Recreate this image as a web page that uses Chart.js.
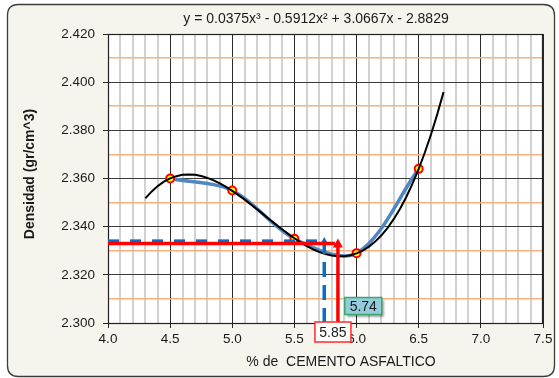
<!DOCTYPE html>
<html>
<head>
<meta charset="utf-8">
<script src="https://cdn.jsdelivr.net/npm/chart.js@4/dist/chart.umd.min.js"></script>
<style>
  html, body { margin: 0; padding: 0; background: #ffffff; }
  #wrap { width: 559px; height: 378px; }
</style>
</head>
<body>
<div id="wrap"><canvas id="chart" width="559" height="378"></canvas></div>
<script>
// Asphalt cement content (%) and measured bulk density (gr/cm^3)
const asphaltPct = [4.5, 5.0, 5.5, 6.0, 6.5];
const density = [2.360, 2.355, 2.335, 2.329, 2.364];

// Cubic trendline of the density series and the range it is drawn over
const trendFrom = 4.3;
const trendTo = 6.7;
const trendEquation = 'y = 0.0375x³ - 0.5912x² + 3.0667x - 2.8829';

// Guide lines for the chosen asphalt content
const redGuidePct = 5.85;
const redGuideDensity = 2.333;
const blueGuidePct = 5.74;
const blueGuideDensity = 2.334;

// Axis tick labels
const xTickLabels = ['4.0', '4.5', '5.0', '5.5', '6.0', '6.5', '7.0', '7.5'];
const yTickLabels = ['2.300', '2.320', '2.340', '2.360', '2.380', '2.400', '2.420'];

const xAxisTitle = '% de  CEMENTO ASFALTICO';
const yAxisTitle = 'Densidad (gr/cm^3)';

const FONT = '"Liberation Sans", Arial, sans-serif';

// ---- least-squares cubic fit (centred on the middle x for stability) ----
function fitCubic(xs, ys) {
  const c = xs.reduce((s, v) => s + v, 0) / xs.length;
  const n = 4;
  const A = Array.from({ length: n }, () => new Array(n + 1).fill(0));
  xs.forEach((xv, k) => {
    const t = xv - c;
    const pw = [1, t, t * t, t * t * t];
    for (let i = 0; i < n; i++) {
      for (let j = 0; j < n; j++) A[i][j] += pw[i] * pw[j];
      A[i][n] += pw[i] * ys[k];
    }
  });
  for (let i = 0; i < n; i++) {
    let p = i;
    for (let r = i + 1; r < n; r++) if (Math.abs(A[r][i]) > Math.abs(A[p][i])) p = r;
    [A[i], A[p]] = [A[p], A[i]];
    for (let r = 0; r < n; r++) {
      if (r === i) continue;
      const f = A[r][i] / A[i][i];
      for (let k = i; k <= n; k++) A[r][k] -= f * A[i][k];
    }
  }
  const b = A.map((row, i) => row[n] / row[i]);
  return xv => { const t = xv - c; return b[0] + b[1] * t + b[2] * t * t + b[3] * t * t * t; };
}

const trend = fitCubic(asphaltPct, density);
const trendPoints = [];
for (let i = 0; i <= 48; i++) {
  const xv = trendFrom + (trendTo - trendFrom) * i / 48;
  trendPoints.push({ x: xv, y: trend(xv) });
}
const densityPoints = asphaltPct.map((v, i) => ({ x: v, y: density[i] }));

const xMin = parseFloat(xTickLabels[0]);
const xMax = parseFloat(xTickLabels[xTickLabels.length - 1]);
const yMin = parseFloat(yTickLabels[0]);
const yMax = parseFloat(yTickLabels[yTickLabels.length - 1]);

// grid positions: every 0.1 on x, every 0.010 on y
const xGrid = [];
for (let i = 0; i <= Math.round((xMax - xMin) * 10); i++) xGrid.push(Math.round((xMin + i * 0.1) * 10) / 10);
const yGrid = [];
for (let i = 0; i <= Math.round((yMax - yMin) * 100); i++) yGrid.push(Math.round((yMin + i * 0.01) * 1000) / 1000);

const isMajorX = v => xTickLabels.includes(v.toFixed(1));
const isMajorY = v => yTickLabels.includes(v.toFixed(3));

function roundRect(ctx, x, y, w, h, r) {
  ctx.beginPath();
  ctx.moveTo(x + r, y);
  ctx.lineTo(x + w - r, y);
  ctx.quadraticCurveTo(x + w, y, x + w, y + r);
  ctx.lineTo(x + w, y + h - r);
  ctx.quadraticCurveTo(x + w, y + h, x + w - r, y + h);
  ctx.lineTo(x + r, y + h);
  ctx.quadraticCurveTo(x, y + h, x, y + h - r);
  ctx.lineTo(x, y + r);
  ctx.quadraticCurveTo(x, y, x + r, y);
  ctx.closePath();
}

function upArrow(ctx, x, yBase, yTip, half) {
  ctx.beginPath();
  ctx.moveTo(x, yTip);
  ctx.lineTo(x + half, yBase);
  ctx.lineTo(x - half, yBase);
  ctx.closePath();
  ctx.fill();
}

function labelBox(ctx, text, cx, cy, w, h, fill, stroke, shadow) {
  ctx.save();
  if (shadow) {
    ctx.shadowColor = 'rgba(0,0,0,0.35)';
    ctx.shadowOffsetX = 2;
    ctx.shadowOffsetY = 2;
    ctx.shadowBlur = 2;
  }
  ctx.fillStyle = fill;
  ctx.fillRect(cx - w / 2, cy - h / 2, w, h);
  ctx.restore();
  ctx.save();
  ctx.strokeStyle = stroke;
  ctx.lineWidth = 1.5;
  ctx.strokeRect(cx - w / 2, cy - h / 2, w, h);
  ctx.fillStyle = '#1a1a1a';
  ctx.font = '14px ' + FONT;
  ctx.textAlign = 'center';
  ctx.textBaseline = 'middle';
  ctx.fillText(text, cx, cy + 1);
  ctx.restore();
}

const decorations = {
  id: 'decorations',
  beforeDraw(chart) {
    const { ctx, chartArea: a } = chart;
    ctx.save();
    ctx.fillStyle = '#ffffff';
    ctx.fillRect(0, 0, chart.width, chart.height);
    roundRect(ctx, 7.5, 4.5, 547, 372, 11);
    ctx.fillStyle = '#f5f5ee';
    ctx.fill();
    ctx.strokeStyle = '#3c3c3c';
    ctx.lineWidth = 1.3;
    ctx.stroke();
    ctx.fillStyle = '#ffffff';
    ctx.fillRect(a.left, a.top, a.right - a.left, a.bottom - a.top);
    ctx.restore();
  },
  beforeDatasetsDraw(chart) {
    const { ctx, chartArea: a } = chart;
    ctx.save();
    ctx.strokeStyle = '#202020';
    ctx.lineWidth = 1.2;
    ctx.strokeRect(Math.round(a.left) + 0.5, Math.round(a.top) + 0.5,
      Math.round(a.right - a.left) - 1, Math.round(a.bottom - a.top));
    ctx.restore();
  },
  afterDatasetsDraw(chart) {
    const { ctx } = chart;
    const xs = chart.scales.x, ys = chart.scales.y;
    const px = v => xs.getPixelForValue(v);
    const py = v => ys.getPixelForValue(v);
    ctx.save();
    ctx.lineCap = 'butt';

    // blue dashed guide
    ctx.strokeStyle = '#0a6fc2';
    ctx.fillStyle = '#0a6fc2';
    ctx.lineWidth = 3.5;
    ctx.setLineDash([11, 11]);
    ctx.beginPath();
    ctx.moveTo(px(xMin), py(blueGuideDensity));
    ctx.lineTo(px(blueGuidePct) - 3, py(blueGuideDensity));
    ctx.stroke();
    ctx.setLineDash([15, 8]);
    ctx.beginPath();
    ctx.moveTo(px(blueGuidePct), py(yMin));
    ctx.lineTo(px(blueGuidePct), py(blueGuideDensity) + 3);
    ctx.stroke();
    ctx.setLineDash([]);
    upArrow(ctx, px(blueGuidePct), py(blueGuideDensity) + 4, py(blueGuideDensity) - 4, 4.5);

    // red solid guide
    ctx.strokeStyle = '#ff0000';
    ctx.fillStyle = '#ff0000';
    ctx.lineWidth = 3.5;
    ctx.beginPath();
    ctx.moveTo(px(xMin), py(redGuideDensity));
    ctx.lineTo(px(redGuidePct) - 3, py(redGuideDensity));
    ctx.stroke();
    ctx.beginPath();
    ctx.moveTo(px(redGuidePct), py(yMin));
    ctx.lineTo(px(redGuidePct), py(redGuideDensity) + 3);
    ctx.stroke();
    upArrow(ctx, px(redGuidePct), py(redGuideDensity) + 4, py(redGuideDensity) - 5, 5);
    ctx.restore();
  },
  afterDraw(chart) {
    const { ctx } = chart;
    const xs = chart.scales.x;
    ctx.save();
    ctx.fillStyle = '#1a1a1a';
    ctx.textAlign = 'center';
    ctx.textBaseline = 'middle';

    ctx.font = '14px ' + FONT;
    ctx.fillText(trendEquation, 316, 19);

    ctx.fillText(xAxisTitle, 341, 362);

    ctx.save();
    ctx.translate(30, 174);
    ctx.rotate(-Math.PI / 2);
    ctx.font = 'bold 14px ' + FONT;
    ctx.fillText(yAxisTitle, 0, 0);
    ctx.restore();

    // value labels for the guide lines
    labelBox(ctx, blueGuidePct.toFixed(2), xs.getPixelForValue(blueGuidePct) + 39, 306, 37, 17,
      '#93cddd', '#3aa96a', true);
    labelBox(ctx, redGuidePct.toFixed(2), xs.getPixelForValue(redGuidePct) - 5, 332, 36, 20,
      '#ffffff', '#ff2a2a', false);
    ctx.restore();
  }
};

new Chart(document.getElementById('chart'), {
  type: 'line',
  data: {
    datasets: [
      {
        label: 'Polinómica',
        data: trendPoints,
        borderColor: '#000000',
        borderWidth: 2,
        pointRadius: 0,
        tension: 0,
        fill: false,
        order: 0
      },
      {
        label: 'Densidad',
        data: densityPoints,
        borderColor: '#4f87c5',
        borderWidth: 3.5,
        tension: 0.33,
        pointRadius: 4,
        pointBorderWidth: 2,
        pointBackgroundColor: '#ffff00',
        pointBorderColor: '#ff0000',
        fill: false,
        order: 1
      }
    ]
  },
  options: {
    responsive: false,
    animation: false,
    devicePixelRatio: 1,
    layout: { padding: { left: 0, top: 34, right: 16, bottom: 0 } },
    plugins: { legend: { display: false }, tooltip: { enabled: false }, title: { display: false } },
    scales: {
      x: {
        type: 'linear',
        min: xMin,
        max: xMax,
        afterFit: s => { s.height = 55; },
        afterBuildTicks: s => { s.ticks = xGrid.map(v => ({ value: v })); },
        border: { display: false },
        grid: {
          color: c => isMajorX(c.tick.value) ? '#2a2a2a' : '#d2d2d2',
          lineWidth: c => isMajorX(c.tick.value) ? 1 : 2,
          tickColor: c => isMajorX(c.tick.value) ? '#2a2a2a' : 'rgba(0,0,0,0)',
          tickLength: 5,
          drawTicks: true
        },
        ticks: {
          autoSkip: false,
          maxRotation: 0,
          padding: 3,
          color: '#1a1a1a',
          font: { family: FONT, size: 13.5 },
          callback: v => isMajorX(v) ? v.toFixed(1) : ''
        }
      },
      y: {
        type: 'linear',
        min: yMin,
        max: yMax,
        afterFit: s => { s.width = 108; },
        afterBuildTicks: s => { s.ticks = yGrid.map(v => ({ value: v })); },
        border: { display: false },
        grid: {
          color: c => isMajorY(c.tick.value) ? '#3a3a3a' : '#f6b17e',
          lineWidth: c => isMajorY(c.tick.value) ? 1 : 1.5,
          tickColor: c => isMajorY(c.tick.value) ? '#2a2a2a' : 'rgba(0,0,0,0)',
          tickLength: 5,
          drawTicks: true
        },
        ticks: {
          autoSkip: false,
          padding: 8,
          color: '#1a1a1a',
          font: { family: FONT, size: 13.5 },
          callback: v => isMajorY(v) ? v.toFixed(3) : ''
        }
      }
    }
  },
  plugins: [decorations]
});
</script>
</body>
</html>
